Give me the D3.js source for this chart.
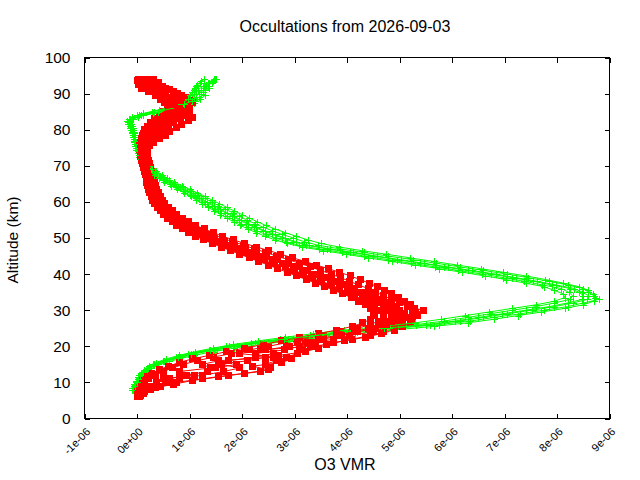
<!DOCTYPE html>
<html><head><meta charset="utf-8">
<script src="https://cdn.jsdelivr.net/npm/d3@7"></script>
<style>body{margin:0;background:#fff}svg{display:block}</style>
</head><body>
<svg id="c" width="640" height="480"></svg>
<script>
// Values are in units of 1e-6 (O3 VMR)
const UNIT = 1e-6;
const ALT_G = [8,9,10,11,12,13,14,15,16,17,18,19,20,21,22,23,24,25,26,27,28,29,30,31,32,33,34,35,36,37,38,39,40,41,42,43,44,45,46,47,48,49,50,51,52,53,54,55,56,57,58,59,60,61,62,63,64,65,66,67,68,69,70,71,72,73,74,75,76,77,78,79,80,81,82,83,84,85,86,87,88,89,90,91,92,93,94];
const ALT_G_HALF = [8.5,9.5,10.5,11.5,12.5,13.5,14.5,15.5,16.5,17.5,18.5,19.5,20.5,21.5,22.5,23.5,24.5,25.5,26.5,27.5,28.5,29.5,30.5,31.5,32.5,33.5,34.5,35.5,36.5,37.5,38.5,39.5,40.5,41.5,42.5,43.5,44.5,45.5,46.5,47.5,48.5,49.5,50.5,51.5,52.5,53.5,54.5,55.5,56.5,57.5,58.5,59.5,60.5,61.5,62.5,63.5,64.5,65.5,66.5,67.5,68.5,69.5,70.5,71.5,72.5,73.5,74.5,75.5,76.5,77.5,78.5,79.5,80.5,81.5,82.5,83.5,84.5,85.5,86.5,87.5,88.5,89.5,90.5,91.5,92.5,93.5];
const ALT_R = [6,7,8,9,10,11,12,13,14,15,16,17,18,19,20,21,22,23,24,25,26,27,28,29,30,31,32,33,34,35,36,37,38,39,40,41,42,43,44,45,46,47,48,49,50,51,52,53,54,55,56,57,58,59,60,61,62,63,64,65,66,67,68,69,70,71,72,73,74,75,76,77,78,79,80,81,82,83,84,85,86,87,88,89,90,91,92,93,94];
const ALT_R_HALF = [6.5,7.5,8.5,9.5,10.5,11.5,12.5,13.5,14.5,15.5,16.5,17.5,18.5,19.5,20.5,21.5,22.5,23.5,24.5,25.5,26.5,27.5,28.5,29.5,30.5,31.5,32.5,33.5,34.5,35.5,36.5,37.5,38.5,39.5,40.5,41.5,42.5,43.5,44.5,45.5,46.5,47.5,48.5,49.5,50.5,51.5,52.5,53.5,54.5,55.5,56.5,57.5,58.5,59.5,60.5,61.5,62.5,63.5,64.5,65.5,66.5,67.5,68.5,69.5,70.5,71.5,72.5,73.5,74.5,75.5,76.5,77.5,78.5,79.5,80.5,81.5,82.5,83.5,84.5,85.5,86.5,87.5,88.5,89.5,90.5,91.5,92.5,93.5];

const GREEN_1 = [-0.06,-0.03,0.02,0.05,0.09,0.17,0.26,0.40,0.60,0.86,1.12,1.52,1.90,2.42,2.98,3.60,4.20,4.95,5.75,6.35,6.80,7.30,7.75,8.20,8.50,8.80,8.70,8.60,8.50,8.20,7.85,7.45,7.05,6.60,6.15,5.70,5.25,4.78,4.32,3.86,3.45,3.18,2.98,2.76,2.58,2.40,2.24,2.09,1.95,1.82,1.68,1.55,1.42,1.29,1.16,1.02,0.87,0.73,0.60,0.49,0.39,0.30,0.22,0.16,0.11,0.06,0.03,0.01,-0.01,-0.03,-0.04,-0.06,-0.08,-0.10,-0.14,-0.08,0.12,0.45,0.75,0.95,1.10,1.18,1.22,1.30,1.35,1.42,1.48];
const GREEN_2 = [-0.09,-0.05,-0.02,0.01,0.04,0.11,0.19,0.31,0.50,0.74,0.98,1.37,1.70,2.18,2.72,3.30,3.82,4.55,5.32,5.85,6.30,6.72,7.15,7.60,7.95,8.25,8.30,8.22,8.08,7.72,7.38,6.98,6.58,6.12,5.68,5.22,4.78,4.33,3.90,3.46,3.08,2.84,2.64,2.45,2.28,2.12,1.98,1.85,1.72,1.60,1.48,1.36,1.24,1.12,1.00,0.87,0.74,0.62,0.50,0.41,0.32,0.24,0.18,0.12,0.07,0.03,0.01,-0.02,-0.03,-0.05,-0.07,-0.09,-0.11,-0.14,-0.18,-0.15,0.00,0.28,0.58,0.80,0.95,1.00,1.05,1.08,1.12,1.20,1.28];
const GREEN_3 = [-0.07,-0.04,0.01,0.04,0.07,0.15,0.23,0.37,0.56,0.82,1.06,1.47,1.83,2.33,2.88,3.48,4.05,4.80,5.58,6.15,6.60,7.05,7.52,7.95,8.30,8.58,8.60,8.48,8.33,7.98,7.62,7.22,6.83,6.38,5.92,5.47,5.02,4.57,4.12,3.67,3.27,3.02,2.82,2.62,2.44,2.27,2.12,1.98,1.85,1.72,1.59,1.47,1.34,1.22,1.10,0.96,0.82,0.69,0.56,0.46,0.36,0.28,0.21,0.15,0.10,0.06,0.03,0.00,-0.02,-0.04,-0.05,-0.07,-0.09,-0.13,-0.17,-0.13,0.04,0.32,0.62,0.88,1.02,1.08,1.12,1.16,1.25,1.35,1.46];
const GREEN_4 = [-0.08,-0.03,0.00,0.02,0.05,0.12,0.20,0.33,0.52,0.78,1.02,1.40,1.75,2.25,2.80,3.40,3.95,4.70,5.50,6.05,6.50,6.95,7.40,7.85,8.20,8.48,8.50,8.42,8.25,7.90,7.55,7.15,6.75,6.30,5.85,5.40,4.95,4.50,4.06,3.62,3.22,2.97,2.77,2.58,2.40,2.23,2.08,1.94,1.81,1.68,1.55,1.43,1.30,1.18,1.06,0.92,0.78,0.65,0.53,0.43,0.34,0.26,0.19,0.13,0.08,0.04,0.01,-0.01,-0.03,-0.05,-0.06,-0.08,-0.10,-0.13,-0.15,-0.10,0.08,0.40,0.70,0.90,1.05,1.12,1.18,1.22,1.28,1.38,1.50];
// half-km grid profiles
const GREEN_5 = [-0.05,0.00,0.04,0.08,0.14,0.24,0.36,0.55,0.80,1.08,1.45,1.85,2.35,2.90,3.55,4.15,4.85,5.65,6.30,6.80,7.25,7.70,8.15,8.50,8.70,8.72,8.68,8.60,8.42,8.12,7.78,7.40,6.98,6.55,6.10,5.65,5.20,4.75,4.28,3.85,3.50,3.25,3.03,2.82,2.63,2.45,2.29,2.14,2.00,1.85,1.71,1.57,1.43,1.30,1.15,1.00,0.85,0.71,0.58,0.47,0.37,0.28,0.21,0.15,0.10,0.06,0.03,0.01,-0.01,-0.03,-0.04,-0.06,-0.08,-0.11,-0.13,0.02,0.30,0.62,0.90,1.08,1.20,1.30,1.25,1.38,1.32,1.45];
const GREEN_6 = [-0.10,-0.05,-0.01,0.02,0.07,0.13,0.22,0.36,0.56,0.80,1.10,1.45,1.82,2.30,2.82,3.35,3.95,4.65,5.30,5.80,6.25,6.70,7.15,7.60,7.95,8.15,8.12,7.95,7.75,7.40,7.02,6.62,6.20,5.75,5.30,4.85,4.40,3.98,3.55,3.15,2.85,2.62,2.44,2.27,2.11,1.97,1.84,1.71,1.59,1.47,1.36,1.24,1.13,1.02,0.90,0.77,0.64,0.52,0.42,0.33,0.26,0.19,0.13,0.08,0.04,0.01,-0.01,-0.03,-0.05,-0.06,-0.08,-0.10,-0.13,-0.17,-0.19,-0.10,0.12,0.42,0.70,0.88,0.98,1.00,1.05,1.10,1.15,1.22];

const RED_1 = [0.05,0.12,0.25,0.45,0.75,1.25,1.75,2.35,2.55,2.45,2.65,2.85,3.05,3.15,3.40,3.75,4.10,4.45,4.70,4.90,5.00,5.05,5.15,5.25,5.45,5.15,5.00,4.85,4.70,4.55,4.40,4.22,4.05,3.88,3.70,3.50,3.30,3.10,2.88,2.66,2.45,2.24,2.03,1.82,1.62,1.44,1.27,1.12,0.98,0.86,0.75,0.66,0.58,0.52,0.46,0.42,0.38,0.35,0.33,0.32,0.31,0.29,0.27,0.25,0.22,0.20,0.18,0.17,0.16,0.17,0.20,0.26,0.35,0.45,0.52,0.60,0.70,0.82,0.95,1.00,0.92,0.85,0.88,0.95,0.78,0.62,0.45,0.30,0.20];
const RED_2 = [0.00,0.02,0.04,0.08,0.14,0.22,0.35,0.50,0.68,0.88,1.15,1.45,1.80,2.15,2.50,2.85,3.20,3.55,3.90,4.20,4.45,4.60,4.70,4.70,4.62,4.52,4.42,4.30,4.15,4.00,3.85,3.70,3.52,3.35,3.17,3.00,2.82,2.62,2.43,2.25,2.06,1.88,1.70,1.52,1.35,1.19,1.05,0.91,0.80,0.70,0.60,0.52,0.45,0.39,0.35,0.31,0.27,0.24,0.22,0.21,0.20,0.18,0.16,0.14,0.12,0.10,0.08,0.07,0.06,0.05,0.06,0.08,0.10,0.12,0.15,0.20,0.26,0.34,0.42,0.50,0.58,0.66,0.70,0.62,0.50,0.38,0.22,0.10,0.05];
const RED_3 = [0.03,0.06,0.12,0.22,0.55,0.80,1.25,1.65,1.95,1.60,2.10,2.45,2.25,2.80,3.10,3.35,3.75,4.05,4.50,4.70,4.90,5.00,4.95,5.10,5.00,4.95,4.80,4.65,4.50,4.35,4.15,3.98,3.80,3.62,3.45,3.25,3.07,2.87,2.67,2.47,2.27,2.06,1.86,1.66,1.48,1.31,1.16,1.01,0.89,0.78,0.68,0.59,0.52,0.46,0.41,0.37,0.33,0.30,0.28,0.27,0.26,0.24,0.22,0.20,0.18,0.16,0.14,0.13,0.12,0.12,0.14,0.18,0.24,0.32,0.40,0.48,0.58,0.66,0.72,0.80,0.86,0.95,1.02,0.90,0.72,0.58,0.48,0.40,0.32];
const RED_4 = [0.02,0.04,0.08,0.18,0.38,0.62,0.95,1.35,1.50,1.90,1.75,2.25,2.60,2.45,2.90,3.25,3.55,3.90,4.20,4.55,4.75,4.85,5.05,4.90,4.85,4.80,4.68,4.55,4.40,4.25,4.08,3.90,3.72,3.55,3.38,3.20,3.02,2.82,2.62,2.42,2.22,2.02,1.82,1.62,1.45,1.28,1.13,0.99,0.87,0.76,0.66,0.57,0.50,0.44,0.39,0.35,0.31,0.28,0.26,0.25,0.24,0.22,0.20,0.18,0.16,0.14,0.12,0.11,0.10,0.10,0.10,0.12,0.15,0.20,0.28,0.38,0.50,0.62,0.78,0.85,0.80,0.72,0.65,0.58,0.45,0.35,0.28,0.15,0.10];
const RED_5 = [0.01,0.03,0.10,0.30,0.62,0.50,1.10,0.80,1.40,1.25,1.55,2.60,1.95,2.35,3.30,3.05,3.45,3.80,4.15,4.40,4.65,4.80,4.85,4.85,4.75,4.70,4.58,4.45,4.30,4.18,4.00,3.85,3.68,3.50,3.32,3.15,2.98,2.78,2.58,2.38,2.18,1.98,1.78,1.60,1.42,1.26,1.11,0.97,0.85,0.74,0.64,0.56,0.49,0.43,0.38,0.34,0.30,0.27,0.25,0.24,0.23,0.21,0.19,0.17,0.15,0.13,0.11,0.10,0.09,0.09,0.10,0.12,0.16,0.22,0.30,0.42,0.55,0.70,0.88,0.92,0.78,0.70,0.82,0.70,0.55,0.40,0.20,0.08,0.02];
// half-km grid profiles
const RED_6 = [0.06,0.15,0.35,0.70,1.05,1.55,2.05,2.50,2.20,2.75,2.95,2.70,3.20,3.45,3.60,3.95,4.35,4.65,4.90,5.05,5.20,5.25,5.35,5.30,5.28,5.20,5.10,4.98,4.85,4.72,4.58,4.42,4.25,4.06,3.86,3.64,3.42,3.20,2.97,2.74,2.51,2.28,2.05,1.83,1.63,1.45,1.28,1.12,0.99,0.87,0.76,0.67,0.60,0.53,0.48,0.44,0.40,0.37,0.35,0.34,0.32,0.30,0.28,0.26,0.24,0.22,0.20,0.19,0.20,0.24,0.32,0.42,0.55,0.62,0.75,0.85,0.98,1.05,0.95,0.90,1.00,1.05,0.95,0.85,0.70,0.55,0.40,0.28];
const RED_7 = [0.00,0.01,0.03,0.06,0.10,0.18,0.28,0.42,0.60,0.80,1.05,1.38,1.70,2.05,2.40,2.75,3.10,3.45,3.80,4.10,4.30,4.45,4.52,4.50,4.45,4.35,4.22,4.08,3.92,3.75,3.58,3.40,3.22,3.04,2.86,2.68,2.50,2.32,2.14,1.96,1.78,1.60,1.43,1.27,1.12,0.99,0.87,0.76,0.67,0.58,0.51,0.44,0.39,0.34,0.30,0.27,0.24,0.22,0.20,0.19,0.18,0.16,0.14,0.12,0.10,0.08,0.07,0.06,0.05,0.05,0.06,0.08,0.11,0.15,0.20,0.28,0.38,0.48,0.58,0.65,0.60,0.52,0.45,0.35,0.22,0.08,0.02,0.00];

const GREEN_PROFILES = [[ALT_G,GREEN_1],[ALT_G,GREEN_2],[ALT_G_HALF,GREEN_5],[ALT_G,GREEN_3],[ALT_G_HALF,GREEN_6],[ALT_G,GREEN_4]];
const RED_PROFILES = [[ALT_R,RED_1],[ALT_R,RED_2],[ALT_R_HALF,RED_6],[ALT_R,RED_3],[ALT_R_HALF,RED_7],[ALT_R,RED_4],[ALT_R,RED_5]];

const X_TICKS = [-1,0,1,2,3,4,5,6,7,8,9];
const X_TICK_LABELS = ["-1e-06","0e+00","1e-06","2e-06","3e-06","4e-06","5e-06","6e-06","7e-06","8e-06","9e-06"];
const Y_TICKS = [0,10,20,30,40,50,60,70,80,90,100];

const TITLE = "Occultations from 2026-09-03";
const X_LABEL = "O3 VMR";
const Y_LABEL = "Altitude (km)";

const FONT = "'Liberation Sans', Arial, sans-serif";
const L = 84.5, R = 609.5, T = 57.5, B = 418.5;

const svg = d3.select("#c");
const x = d3.scaleLinear().domain([X_TICKS[0]*UNIT, X_TICKS[X_TICKS.length-1]*UNIT]).range([L, R]);
const y = d3.scaleLinear().domain([0, 100]).range([B, T]);

svg.append("rect").attr("x", L).attr("y", T).attr("width", R-L).attr("height", B-T)
  .attr("fill", "none").attr("stroke", "#000").attr("stroke-width", 1).attr("shape-rendering","crispEdges");

function styleAxis(g){
  g.select(".domain").remove();
  g.selectAll(".tick line").attr("stroke","#000").attr("shape-rendering","crispEdges");
}
const xt = X_TICKS.map(v => v*UNIT);
const gB = svg.append("g").attr("transform",`translate(0,${B})`)
  .call(d3.axisBottom(x).tickValues(xt).tickSize(-5).tickFormat((d,i)=>X_TICK_LABELS[i]));
styleAxis(gB);
gB.selectAll(".tick text").attr("font-family", FONT).attr("font-size", 11).attr("fill","#000")
  .attr("text-anchor","end").attr("x",0).attr("y",0).attr("dy",0)
  .attr("transform","translate(6,14) rotate(-45)");
const gT = svg.append("g").attr("transform",`translate(0,${T})`)
  .call(d3.axisTop(x).tickValues(xt).tickSize(-5).tickFormat(""));
styleAxis(gT);
const gL = svg.append("g").attr("transform",`translate(${L},0)`)
  .call(d3.axisLeft(y).tickValues(Y_TICKS).tickSize(-5).tickPadding(14).tickFormat(d3.format("d")));
styleAxis(gL);
gL.selectAll(".tick text").attr("font-family", FONT).attr("font-size", 15.5).attr("fill","#000");
const gR = svg.append("g").attr("transform",`translate(${R},0)`)
  .call(d3.axisRight(y).tickValues(Y_TICKS).tickSize(-5).tickFormat(""));
styleAxis(gR);

const plot = svg.append("g");
const line = d3.line().x(d=>x(d[0]*UNIT)).y(d=>y(d[1]));
function pairs(alts, vals){
  const n = Math.min(alts.length, vals.length);
  const out = [];
  for (let i=0;i<n;i++) out.push([vals[i], alts[i]]);
  return out;
}
function drawGreen(p){
  const pts = pairs(p[0], p[1]);
  const g = plot.append("g");
  g.append("path").datum(pts).attr("d", line).attr("fill","none").attr("stroke","#00ff00").attr("stroke-width",1);
  g.selectAll("path.m").data(pts).join("path").attr("class","m")
    .attr("d", d=>{const cx=Math.round(x(d[0]*UNIT))+0.5, cy=Math.round(y(d[1]))+0.5; return `M${cx-3.5},${cy}H${cx+3.5}M${cx},${cy-3.5}V${cy+3.5}`;})
    .attr("stroke","#00ff00").attr("stroke-width",1).attr("fill","none").attr("shape-rendering","crispEdges");
}
function drawRed(p){
  const pts = pairs(p[0], p[1]);
  const g = plot.append("g");
  g.append("path").datum(pts).attr("d", line).attr("fill","none").attr("stroke","#ff0000").attr("stroke-width",1);
  g.selectAll("rect").data(pts).join("rect")
    .attr("x", d=>x(d[0]*UNIT)-3.5).attr("y", d=>y(d[1])-3.5).attr("width",7).attr("height",7)
    .attr("fill","#ff0000").attr("shape-rendering","crispEdges");
}
const n = Math.max(GREEN_PROFILES.length, RED_PROFILES.length);
for (let i=0;i<n;i++){
  if (GREEN_PROFILES[i]) drawGreen(GREEN_PROFILES[i]);
  if (RED_PROFILES[i]) drawRed(RED_PROFILES[i]);
}

svg.append("text").attr("x", 345).attr("y", 32).attr("text-anchor","middle")
  .attr("font-family", FONT).attr("font-size", 16).text(TITLE);
svg.append("text").attr("x", 345).attr("y", 470).attr("text-anchor","middle")
  .attr("font-family", FONT).attr("font-size", 16).text(X_LABEL);
svg.append("text").attr("transform","translate(18,240) rotate(-90)").attr("text-anchor","middle")
  .attr("font-family", FONT).attr("font-size", 15.5).text(Y_LABEL);
</script>
</body></html>
